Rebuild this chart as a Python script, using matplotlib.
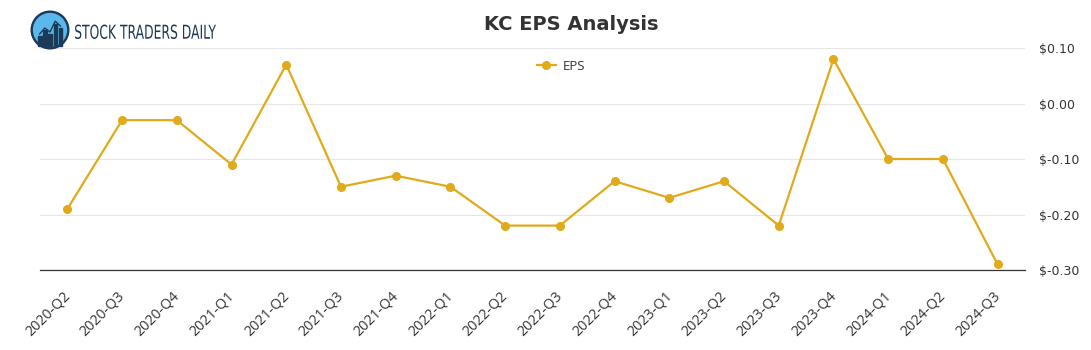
import matplotlib
matplotlib.use("Agg")
import matplotlib.pyplot as plt
from matplotlib.patches import Circle, Rectangle, PathPatch
from matplotlib.textpath import TextPath
from matplotlib.font_manager import FontProperties
from matplotlib.transforms import Affine2D, ScaledTranslation
import numpy as np

quarters = ["2020-Q2", "2020-Q3", "2020-Q4", "2021-Q1", "2021-Q2", "2021-Q3",
            "2021-Q4", "2022-Q1", "2022-Q2", "2022-Q3", "2022-Q4", "2023-Q1",
            "2023-Q2", "2023-Q3", "2023-Q4", "2024-Q1", "2024-Q2", "2024-Q3"]
eps = [-0.19, -0.03, -0.03, -0.11, 0.07, -0.15, -0.13, -0.15, -0.22, -0.22,
       -0.14, -0.17, -0.14, -0.22, 0.08, -0.10, -0.10, -0.29]
yticks = [-0.30, -0.20, -0.10, 0.00, 0.10]

plt.rcParams['font.family'] = ['Open Sans', 'DejaVu Sans']

W, H = 1091, 350
fig = plt.figure(figsize=(W / 100, H / 100), dpi=100)
ax = fig.add_axes([40 / W, 80 / H, 985 / W, 222 / H])

x = np.arange(len(quarters))
color = '#E0AA1B'
ax.plot(x, eps, color=color, lw=1.6, marker='o', ms=5.5, label='EPS', zorder=3)

ax.set_xlim(-0.5, len(quarters) - 0.5)
ax.set_ylim(-0.30, 0.10)
ax.set_yticks(yticks)
ax.set_yticklabels(["$" + f"{v:.2f}" for v in yticks])
ax.yaxis.tick_right()
ax.tick_params(axis='y', length=0, pad=10, labelsize=9, labelcolor='#333333')
for lbl in ax.get_yticklabels():
    lbl.set_family(['DejaVu Sans'])
ax.set_xticks(x)
ax.set_xticklabels(quarters, rotation=45, ha='right', rotation_mode='anchor')
ax.tick_params(axis='x', length=0, labelsize=10.3, labelcolor='#333333', pad=13)
shift = ScaledTranslation(-0.05, 0, fig.dpi_scale_trans)
for lbl in ax.get_xticklabels():
    lbl.set_transform(lbl.get_transform() + shift)
ax.grid(axis='y', color='#e6e6e6', lw=0.8)
for s in ['top', 'right', 'left']:
    ax.spines[s].set_visible(False)
ax.spines['bottom'].set_color('#333333')
ax.spines['bottom'].set_linewidth(0.9)

leg = fig.legend(*ax.get_legend_handles_labels(), loc='center',
                 bbox_to_anchor=(561 / W, 1 - 66 / H), frameon=False,
                 fontsize=9.5, handlelength=1.4, handletextpad=0.5)
for t in leg.get_texts():
    t.set_color('#333333')

fig.text(571 / W, 1 - 24 / H, "KC EPS Analysis", ha='center', va='center',
         fontsize=14, fontweight='bold', color='#333333', family=['DejaVu Sans'])

# Logo
lax = fig.add_axes([30 / W, 1 - 50 / H, 40 / W, 40 / H])
lax.set_xlim(0, 1); lax.set_ylim(0, 1); lax.set_aspect('equal'); lax.axis('off')
lax.add_patch(Circle((0.5, 0.5), 0.47, color='#1b3a57'))
lax.add_patch(Circle((0.5, 0.5), 0.41, color='#5bb8ec'))
for bx, bh in [(0.2, 0.25), (0.33, 0.4), (0.46, 0.3), (0.59, 0.55), (0.72, 0.45)]:
    lax.add_patch(Rectangle((bx, 0.1), 0.09, bh, color='#1b3a57'))
lax.plot([0.24, 0.37, 0.5, 0.63, 0.76], [0.4, 0.55, 0.45, 0.72, 0.6], color='#1b3a57', lw=1)

# Condensed logo text, in pixel coordinates
tax = fig.add_axes([0, 0, 1, 1], zorder=5)
tax.set_xlim(0, W); tax.set_ylim(0, H); tax.axis('off')
tp = TextPath((0, 0), "STOCK TRADERS DAILY", size=19,
              prop=FontProperties(family='DejaVu Sans'))
bb = tp.get_extents()
sx = 141 / bb.width
sy = 14.5 / bb.height
tr = Affine2D().translate(-bb.x0, -bb.y0).scale(sx, sy).translate(75, H - 39)
tax.add_patch(PathPatch(tr.transform_path(tp), color='#1b3a57', lw=0))

fig.savefig("out.png", dpi=100)
